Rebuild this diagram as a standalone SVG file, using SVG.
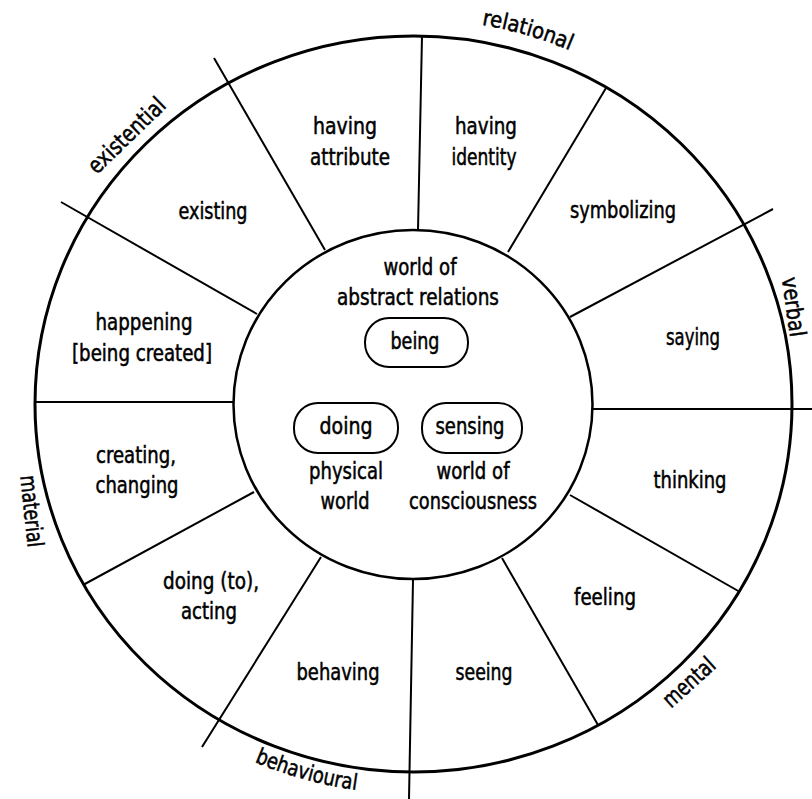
<svg xmlns="http://www.w3.org/2000/svg" width="812" height="799" viewBox="0 0 812 799">
<style>
  .t { font-family: "DejaVu Sans Condensed", "DejaVu Sans", sans-serif; font-stretch: condensed; font-size: 23px; fill: #000; stroke: #000; stroke-width: 0.5; text-anchor: middle; }
  .ring { fill: none; stroke: #000; }
  .spoke { stroke: #000; stroke-width: 2; fill: none; }
  .pill { fill: none; stroke: #000; stroke-width: 2; }
</style>
<defs>
  <path id="arcTop" d="M322.5 29.4 A395.5 385 0 0 1 701.4 139.9"/>
  <path id="arcBottom" d="M125.9 675.4 A400.5 390 0 0 0 511.1 782.3"/>
</defs>
<rect width="812" height="799" fill="#fff"/>
<g id="wheel">
  <ellipse class="ring" cx="413.5" cy="404" rx="378.5" ry="368" stroke-width="3"/>
  <ellipse class="ring" cx="413" cy="404.5" rx="179.5" ry="174.5" stroke-width="2.5"/>
</g>
<g id="connectors">
  <line class="spoke" x1="422" y1="36" x2="418" y2="230"/>
  <line class="spoke" x1="214" y1="58" x2="325" y2="250"/>
  <line class="spoke" x1="61" y1="202" x2="257" y2="314"/>
  <line class="spoke" x1="35" y1="402" x2="233" y2="402"/>
  <line class="spoke" x1="254" y1="492" x2="83" y2="585"/>
  <line class="spoke" x1="321" y1="557" x2="202" y2="747"/>
  <line class="spoke" x1="413" y1="580" x2="409" y2="799"/>
  <line class="spoke" x1="502" y1="558" x2="598" y2="725"/>
  <line class="spoke" x1="570" y1="495" x2="740" y2="592"/>
  <line class="spoke" x1="592" y1="409" x2="812" y2="409"/>
  <line class="spoke" x1="570" y1="317" x2="773" y2="209"/>
  <line class="spoke" x1="508" y1="252" x2="606" y2="88"/>
</g>
<g id="centre">
  <text class="t" x="420" y="275" textLength="73" lengthAdjust="spacingAndGlyphs">world of</text>
  <text class="t" x="418" y="305" textLength="162" lengthAdjust="spacingAndGlyphs">abstract relations</text>
  <g id="being">
    <rect class="pill" x="365" y="318" width="103" height="49" rx="24"/>
    <text class="t" x="415" y="349" textLength="49" lengthAdjust="spacingAndGlyphs">being</text>
  </g>
  <g id="doing">
    <rect class="pill" x="294" y="403" width="104" height="50" rx="24"/>
    <text class="t" x="346" y="434" textLength="53" lengthAdjust="spacingAndGlyphs">doing</text>
  </g>
  <g id="sensing">
    <rect class="pill" x="422" y="403" width="100" height="50" rx="24"/>
    <text class="t" x="470" y="434" textLength="69" lengthAdjust="spacingAndGlyphs">sensing</text>
  </g>
  <text class="t" x="346" y="479" textLength="74" lengthAdjust="spacingAndGlyphs">physical</text>
  <text class="t" x="345" y="509" textLength="49" lengthAdjust="spacingAndGlyphs">world</text>
  <text class="t" x="473" y="479" textLength="73" lengthAdjust="spacingAndGlyphs">world of</text>
  <text class="t" x="473" y="509" textLength="128" lengthAdjust="spacingAndGlyphs">consciousness</text>
</g>
<g id="having-attribute">
  <text class="t" x="345" y="134" textLength="64" lengthAdjust="spacingAndGlyphs">having</text>
  <text class="t" x="350" y="165" textLength="80" lengthAdjust="spacingAndGlyphs">attribute</text>
</g>
<g id="having-identity">
  <text class="t" x="486" y="134" textLength="62" lengthAdjust="spacingAndGlyphs">having</text>
  <text class="t" x="484" y="165" textLength="65" lengthAdjust="spacingAndGlyphs">identity</text>
</g>
<g id="symbolizing"><text class="t" x="623" y="218" textLength="106" lengthAdjust="spacingAndGlyphs">symbolizing</text></g>
<g id="saying"><text class="t" x="693" y="345" textLength="54" lengthAdjust="spacingAndGlyphs">saying</text></g>
<g id="thinking"><text class="t" x="690" y="488" textLength="73" lengthAdjust="spacingAndGlyphs">thinking</text></g>
<g id="feeling"><text class="t" x="605" y="605" textLength="62" lengthAdjust="spacingAndGlyphs">feeling</text></g>
<g id="seeing"><text class="t" x="484" y="680" textLength="57" lengthAdjust="spacingAndGlyphs">seeing</text></g>
<g id="behaving"><text class="t" x="338" y="680" textLength="83" lengthAdjust="spacingAndGlyphs">behaving</text></g>
<g id="doing-to">
  <text class="t" x="211" y="589" textLength="96" lengthAdjust="spacingAndGlyphs">doing (to),</text>
  <text class="t" x="209" y="619" textLength="56" lengthAdjust="spacingAndGlyphs">acting</text>
</g>
<g id="creating">
  <text class="t" x="136" y="463" textLength="80" lengthAdjust="spacingAndGlyphs">creating,</text>
  <text class="t" x="137" y="493" textLength="83" lengthAdjust="spacingAndGlyphs">changing</text>
</g>
<g id="happening">
  <text class="t" x="144" y="330" textLength="97" lengthAdjust="spacingAndGlyphs">happening</text>
  <text class="t" x="142" y="361" textLength="140" lengthAdjust="spacingAndGlyphs">[being created]</text>
</g>
<g id="existing"><text class="t" x="213" y="219" textLength="69" lengthAdjust="spacingAndGlyphs">existing</text></g>
<g id="process-types">
  <text class="t" style="font-size:22px"><textPath href="#arcTop" startOffset="50%" textLength="92" lengthAdjust="spacingAndGlyphs">relational</textPath></text>
  <text class="t" x="132" y="141" textLength="98" lengthAdjust="spacingAndGlyphs" transform="rotate(-44 132 141)">existential</text>
  <text class="t" x="786" y="308" textLength="60" lengthAdjust="spacingAndGlyphs" transform="rotate(82 786 308)">verbal</text>
  <text class="t" x="24" y="512" textLength="72" lengthAdjust="spacingAndGlyphs" transform="rotate(84 24 512)">material</text>
  <text class="t" x="694" y="688" textLength="62" lengthAdjust="spacingAndGlyphs" transform="rotate(-42 694 688)">mental</text>
  <text class="t" style="font-size:22px"><textPath href="#arcBottom" startOffset="50%" textLength="106" lengthAdjust="spacingAndGlyphs">behavioural</textPath></text>
</g>
</svg>
